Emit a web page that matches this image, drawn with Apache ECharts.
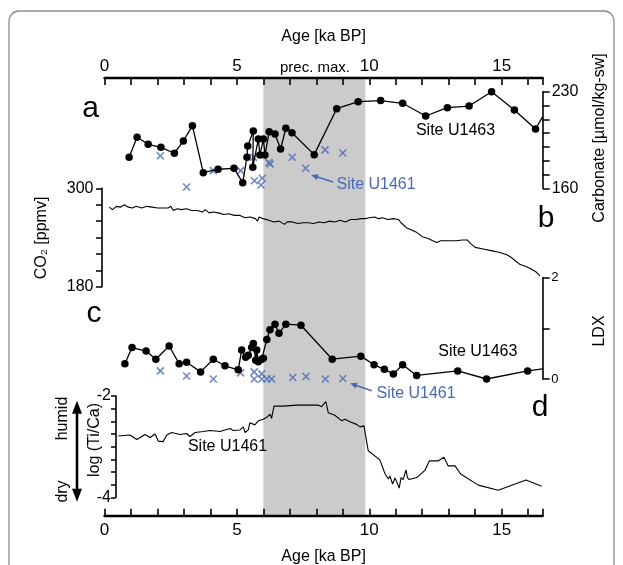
<!DOCTYPE html>
<html><head><meta charset="utf-8">
<script src="https://cdn.jsdelivr.net/npm/echarts/dist/echarts.min.js"></script>
<style>html,body{margin:0;padding:0;background:#fff}#c{width:623px;height:565px}</style>
</head><body><div id="c"></div>
<script>
// ---------- data ----------
const AGE_MIN = 0, AGE_MAX = 16.55;
const precMax = [6.0, 9.85];           // shaded precipitation maximum (ka BP)

// a: Carbonate, Site U1463
const carbAgeU1463 = [0.93,1.23,1.65,2.13,2.64,2.98,3.32,3.73,4.29,4.89,5.22,5.38,5.41,5.62,5.60,5.81,5.87,6.00,6.06,6.22,6.44,6.65,6.85,7.08,7.92,8.77,9.58,10.43,11.26,12.13,12.95,13.77,14.62,15.48,16.28,16.55];
const carbU1463    = [182.5,197.0,191.9,189.7,185.4,194.3,205.4,171.3,173.8,174.5,164.1,182.5,190.7,201.5,175.2,195.7,184.1,195.7,184.1,201.0,199.3,188.5,203.5,200.3,184.4,217.7,222.8,223.6,221.6,212.4,218.4,219.6,230.0,216.7,203.0,211.9];
// a: Carbonate, Site U1461
const carbAgeU1461 = [2.11,3.10,4.11,5.14,5.63,5.66,5.96,5.91,6.21,6.26,7.09,7.60,8.33,9.00];
const carbU1461    = [183.6,160.9,172.8,172.8,182.5,165.5,167.3,162.4,178.6,177.6,182.5,174.5,187.8,185.6];

// b: CO2
const co2Age = [0.18,0.3,0.45,0.6,0.75,0.9,1.05,1.2,1.4,1.6,1.8,2.0,2.2,2.4,2.5,2.6,2.75,2.9,3.1,3.3,3.5,3.7,3.8,3.95,4.1,4.3,4.5,4.7,4.9,5.1,5.3,5.5,5.7,5.78,5.84,6.0,6.2,6.4,6.6,6.8,6.9,7.1,7.3,7.5,7.7,7.9,8.1,8.3,8.5,8.7,8.9,9.1,9.3,9.5,9.7,9.85,10.0,10.2,10.35,10.5,10.7,10.9,11.1,11.2,11.4,11.6,11.8,12.0,12.2,12.4,12.55,12.7,12.9,13.1,13.3,13.5,13.7,13.85,14.0,14.3,14.6,14.9,15.2,15.35,15.5,15.7,15.9,16.1,16.3,16.45];
const co2Val = [277,274,278,277,280,277,276,278,276,278,277,276,276,276,278,273,275,274,275,273,273,271,274,270,271,270,268,269,267,267,264,265,263,260,265,263,261,259,260,256,259,259,257,258,258,257,259,258,260,259,261,259,262,262,263,263,264,265,263,264,262,263,262,258,252,249,246,241,239,236,234,236,236,236,236,237,237,232,228,226,224,222,219,216,212,207,205,202,198,193];

// c: LDX, Site U1463
const ldxAgeU1463 = [0.77,1.04,1.57,1.94,2.44,2.82,3.10,3.63,4.11,4.55,5.05,5.18,5.33,5.43,5.56,5.62,5.71,5.75,5.81,5.94,6.00,6.13,6.25,6.44,6.59,6.85,7.42,8.60,9.68,10.18,10.57,10.91,11.26,11.79,13.34,14.43,15.98,16.55];
const ldxU1463    = [0.30,0.62,0.55,0.39,0.65,0.30,0.33,0.14,0.39,0.26,0.18,0.57,0.43,0.47,0.62,0.70,0.37,0.57,0.34,0.39,0.41,0.78,0.97,1.08,0.90,1.08,1.06,0.39,0.45,0.28,0.19,0.10,0.28,0.07,0.16,0.00,0.16,0.20];
// c: LDX, Site U1461
const ldxAgeU1461 = [2.11,3.10,4.11,5.14,5.65,5.65,5.94,5.94,6.13,6.31,7.11,7.61,8.34,9.00];
const ldxU1461    = [0.16,0.06,0.00,0.12,0.14,0.00,0.10,0.00,0.00,0.00,0.03,0.05,0.00,0.01];

// d: log(Ti/Ca), Site U1461
const ticaAge = [0.52,0.96,1.22,1.53,1.72,1.91,2.03,2.22,2.35,2.54,2.85,3.10,3.23,3.42,3.73,3.98,4.36,4.74,4.86,5.12,5.24,5.31,5.43,5.49,5.68,5.81,6.00,6.13,6.25,6.31,6.40,6.75,7.26,7.38,8.07,8.20,8.36,8.45,8.70,8.96,9.08,9.27,9.52,9.65,9.80,9.96,10.40,10.59,10.72,10.78,10.88,10.97,11.06,11.13,11.20,11.28,11.39,11.44,11.51,11.79,12.10,12.27,12.61,12.82,12.98,13.24,13.45,14.12,14.87,15.92,16.51];
const ticaVal = [-2.79,-2.77,-2.86,-2.76,-2.82,-2.75,-2.89,-2.90,-2.77,-2.72,-2.76,-2.74,-2.80,-2.72,-2.70,-2.68,-2.70,-2.64,-2.68,-2.67,-2.61,-2.72,-2.67,-2.53,-2.57,-2.49,-2.46,-2.42,-2.36,-2.44,-2.20,-2.20,-2.18,-2.18,-2.18,-2.21,-2.11,-2.33,-2.38,-2.49,-2.46,-2.51,-2.56,-2.61,-2.59,-3.08,-3.26,-3.53,-3.64,-3.58,-3.74,-3.62,-3.72,-3.82,-3.61,-3.65,-3.46,-3.61,-3.65,-3.61,-3.47,-3.28,-3.28,-3.21,-3.38,-3.38,-3.54,-3.76,-3.86,-3.66,-3.78];

// ---------- chart ----------
const FONT = "'Liberation Sans', Arial, sans-serif";
const BLUE = '#4a68b9';
const L = 104.5, W = 438.2;
const pairs = (a, b) => a.map((x, i) => [x, b[i]]);
const ends = (lo, hi) => v => (Math.abs(v - lo) < 1e-6 || Math.abs(v - hi) < 1e-6) ? String(v) : '';
const XMARK = 'path://M0,0L10,10M10,0L0,10';

function hiddenX(g) { return {type:'value', gridIndex:g, min:AGE_MIN, max:AGE_MAX, show:false}; }
function yAx(g, pos, min, max, interval, fs, tickLen, offset, margin) {
  return {
    type:'value', gridIndex:g, position:pos, min, max, interval, offset: offset || 0,
    axisLine:{show:true, onZero:false, lineStyle:{color:'#000', width:1.6}},
    axisTick:{show:true, inside:false, length:tickLen, lineStyle:{color:'#000', width:1.5}},
    axisLabel:{show:true, formatter: ends(min, max), fontSize:fs, color:'#000', fontFamily:FONT, margin},
    splitLine:{show:false}
  };
}
function ageAxis(pos, margin, nameGap) {
  return {
    type:'value', gridIndex:0, position:pos, min:AGE_MIN, max:AGE_MAX, interval:1,
    axisLine:{show:true, onZero:false, lineStyle:{color:'#000', width:2.4}},
    axisTick:{show:true, inside:true, length:7, lineStyle:{color:'#000', width:1.6}},
    axisLabel:{formatter: v => (Math.abs(v % 5) < 1e-6 ? String(v) : ''), fontSize:17, color:'#000', fontFamily:FONT, margin},
    splitLine:{show:false},
    name:'Age [ka BP]', nameLocation:'middle', nameGap,
    nameTextStyle:{fontSize:16, color:'#000', fontFamily:FONT}
  };
}
function txt(x, y, text, size, opt) {
  opt = opt || {};
  return {type:'text', x, y, rotation: opt.rot || 0, z:100,
    style:{text, fill: opt.color || '#000', fontSize:size, fontFamily:FONT,
      align: opt.align || 'center', verticalAlign:'middle'}};
}
function arrow(x1, y1, x2, y2, color, w, hl, hw) {
  const a = Math.atan2(y2 - y1, x2 - x1);
  const bx = x2 - hl * Math.cos(a), by = y2 - hl * Math.sin(a);
  const px = -Math.sin(a) * hw / 2, py = Math.cos(a) * hw / 2;
  return [
    {type:'line', z:100, shape:{x1, y1, x2:bx + Math.cos(a), y2:by + Math.sin(a)}, style:{stroke:color, lineWidth:w}},
    {type:'polygon', z:100, shape:{points:[[x2, y2], [bx + px, by + py], [bx - px, by - py]]}, style:{fill:color}}
  ];
}

const option = {
  animation:false,
  textStyle:{fontFamily:FONT},
  grid:[
    {left:L, width:W, top:78, height:437.7, outerBoundsMode:'none'},
    {left:L, width:W, top:91.7, height:96.6, outerBoundsMode:'none'},
    {left:L, width:W, top:188.3, height:98.4, outerBoundsMode:'none'},
    {left:L, width:W, top:277.5, height:101.5, outerBoundsMode:'none'},
    {left:L, width:W, top:396, height:101.3, outerBoundsMode:'none'}
  ],
  xAxis:[ ageAxis('top', 3, 33), ageAxis('bottom', 6, 33), hiddenX(1), hiddenX(2), hiddenX(3), hiddenX(4) ],
  yAxis:[
    {type:'value', gridIndex:0, min:0, max:1, show:false},
    yAx(1, 'right', 160, 230, 10, 16, 7, 0, 9),
    yAx(2, 'left', 180, 300, 20, 16, 6, 2.5, 8.5),
    yAx(3, 'right', 0, 2, 1, 13, 7, 0, 8.5),
    yAx(4, 'left', -4, -2, 0.25, 16, 5, -11.5, 5)
  ],
  series:[
    {type:'line', xAxisIndex:0, yAxisIndex:0, data:[[8, 0.5]], symbol:'none', lineStyle:{width:0, opacity:0}, silent:true, z:0,
     markArea:{silent:true, z:-1, itemStyle:{color:'#cbcbcb'}, data:[[{xAxis:precMax[0]}, {xAxis:precMax[1]}]]}},
    {type:'line', xAxisIndex:2, yAxisIndex:1, clip:false, symbol:'circle', symbolSize:7.5, showAllSymbol:true,
     itemStyle:{color:'#000'}, lineStyle:{color:'#000', width:1.3},
     data: pairs(carbAgeU1463, carbU1463).map((p, i, arr) => i === arr.length - 1 ? {value:p, symbol:'none'} : p)},
    {type:'scatter', xAxisIndex:2, yAxisIndex:1, symbol:XMARK, symbolSize:7,
     itemStyle:{color:'rgba(0,0,0,0)', borderColor:BLUE, borderWidth:1.6}, data: pairs(carbAgeU1461, carbU1461)},
    {type:'line', xAxisIndex:3, yAxisIndex:2, symbol:'none', lineStyle:{color:'#000', width:1.1}, data: pairs(co2Age, co2Val)},
    {type:'line', xAxisIndex:4, yAxisIndex:3, clip:false, symbol:'circle', symbolSize:7.5, showAllSymbol:true,
     itemStyle:{color:'#000'}, lineStyle:{color:'#000', width:1.3},
     data: pairs(ldxAgeU1463, ldxU1463).map((p, i, arr) => i === arr.length - 1 ? {value:p, symbol:'none'} : p)},
    {type:'scatter', xAxisIndex:4, yAxisIndex:3, clip:false, symbol:XMARK, symbolSize:7,
     itemStyle:{color:'rgba(0,0,0,0)', borderColor:BLUE, borderWidth:1.6}, data: pairs(ldxAgeU1461, ldxU1461)},
    {type:'line', xAxisIndex:5, yAxisIndex:4, symbol:'none', lineStyle:{color:'#000', width:1.1}, data: pairs(ticaAge, ticaVal)}
  ],
  graphic:[
    {type:'rect', z:-10, shape:{x:9, y:11, width:605, height:620, r:10}, style:{fill:'none', stroke:'#8c8c8c', lineWidth:1.3}},
    txt(315, 67.5, 'prec. max.', 15),
    txt(90.5, 108.5, 'a', 30),
    txt(546, 218.5, 'b', 30),
    txt(94, 313.5, 'c', 30),
    txt(540, 407.5, 'd', 30),
    txt(455.5, 131, 'Site U1463', 16),
    txt(477.8, 352, 'Site U1463', 16),
    txt(227.5, 446.5, 'Site U1461', 16),
    txt(336.5, 185, 'Site U1461', 16, {align:'left', color:BLUE}),
    txt(376.5, 393.5, 'Site U1461', 16, {align:'left', color:BLUE}),
    txt(600, 138, 'Carbonate [µmol/kg-sw]', 16, {rot:Math.PI/2}),
    txt(42, 238, 'CO₂ [ppmv]', 16, {rot:Math.PI/2}),
    txt(600, 331, 'LDX', 16, {rot:Math.PI/2}),
    txt(95, 440, 'log (Ti/Ca)', 16, {rot:Math.PI/2}),
    txt(63, 418.5, 'humid', 16, {rot:Math.PI/2}),
    txt(63, 491.5, 'dry', 16, {rot:Math.PI/2}),
    ...arrow(333, 182, 311, 175, BLUE, 1.5, 7, 6),
    ...arrow(371.7, 390.7, 350, 383.3, BLUE, 1.5, 7, 6),
    ...arrow(77, 450, 77, 400.7, '#000', 2.6, 13, 10),
    ...arrow(77, 450, 77, 501.7, '#000', 2.6, 13, 10)
  ]
};
const chart = echarts.init(document.getElementById('c'));
chart.setOption(option);
</script>
</body></html>
